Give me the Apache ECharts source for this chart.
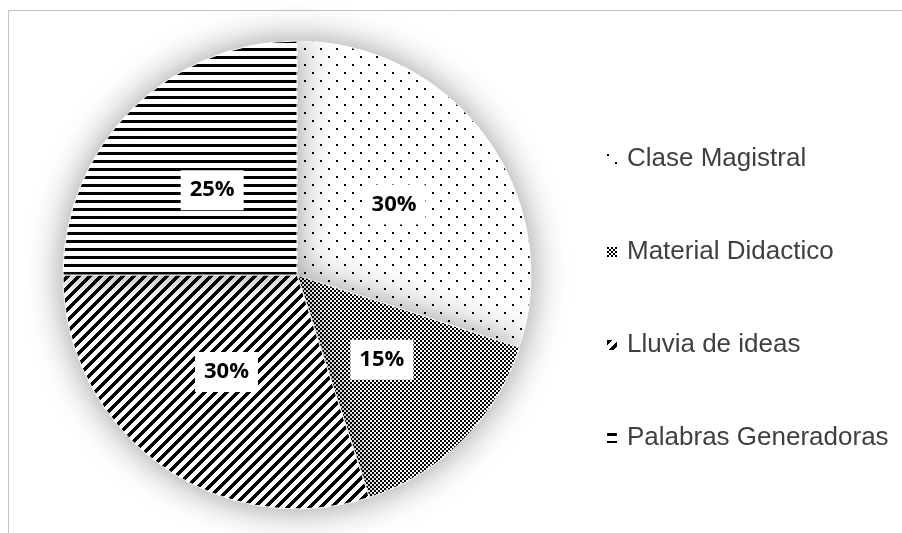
<!DOCTYPE html>
<html>
<head>
<meta charset="utf-8">
<script src="https://cdn.jsdelivr.net/npm/echarts@6/dist/echarts.min.js"></script>
<style>
  html, body { margin: 0; padding: 0; background: #fff; }
  #chart { width: 902px; height: 533px; }
</style>
</head>
<body>
<div id="chart"></div>
<script>
  var categories = ['Clase Magistral', 'Material Didactico', 'Lluvia de ideas', 'Palabras Generadoras']
  var values = [30, 15, 30, 25]

  // small black/white fill tiles, drawn pixel by pixel
  function makeTile (size, isBlack) {
    var c = document.createElement('canvas')
    c.width = size
    c.height = size
    var ctx = c.getContext('2d')
    var img = ctx.createImageData(size, size)
    for (var y = 0; y < size; y++) {
      for (var x = 0; x < size; x++) {
        var v = isBlack(x, y) ? 0 : 255
        var i = (y * size + x) * 4
        img.data[i] = v
        img.data[i + 1] = v
        img.data[i + 2] = v
        img.data[i + 3] = 255
      }
    }
    ctx.putImageData(img, 0, 0)
    return { image: c, repeat: 'repeat' }
  }

  var fills = [
    makeTile(16, function (x, y) {
      return (x < 2 && y < 2) || (x >= 8 && x < 10 && y >= 8 && y < 10)
    }),
    makeTile(4, function (x, y) {
      return ((Math.floor(x / 2) + Math.floor(y / 2)) % 2) === 0
    }),
    makeTile(11, function (x, y) {
      return ((x + y) % 11) < 5
    }),
    makeTile(8, function (x, y) {
      return y < 3
    })
  ]

  var pieData = categories.map(function (name, i) {
    return { name: name, value: values[i], itemStyle: { color: fills[i] } }
  })

  var myecharts = echarts.init(document.getElementById('chart'))
  myecharts.setOption({
    animation: false,
    backgroundColor: '#fff',
    graphic: [{
      type: 'rect',
      shape: { x: 8.5, y: 10.5, width: 1000, height: 1000 },
      style: { fill: 'none', stroke: '#c4c4c4', lineWidth: 1 },
      silent: true
    }],
    legend: {
      orient: 'vertical',
      left: 602,
      top: 141,
      itemWidth: 10,
      itemHeight: 10,
      itemGap: 67,
      icon: 'rect',
      itemStyle: { shadowBlur: 0, borderWidth: 0 },
      textStyle: {
        fontSize: 26,
        color: '#404040',
        fontFamily: 'Liberation Sans',
        padding: [0, 0, 0, 5]
      },
      data: categories
    },
    series: [{
      type: 'pie',
      center: [297, 275],
      radius: 234,
      startAngle: 90,
      clockwise: true,
      itemStyle: {
        borderColor: '#fff',
        borderWidth: 1,
        shadowBlur: 36,
        shadowColor: 'rgba(0,0,0,0.4)'
      },
      emphasis: { disabled: true },
      label: {
        show: true,
        position: 'inside',
        formatter: '{c}%',
        fontFamily: 'Open Sans',
        fontWeight: 'bold',
        fontSize: 22,
        color: '#000',
        backgroundColor: '#fff',
        padding: [8, 9],
        lineHeight: 24
      },
      labelLine: { show: false },
      data: pieData
    }]
  })
</script>
</body>
</html>
